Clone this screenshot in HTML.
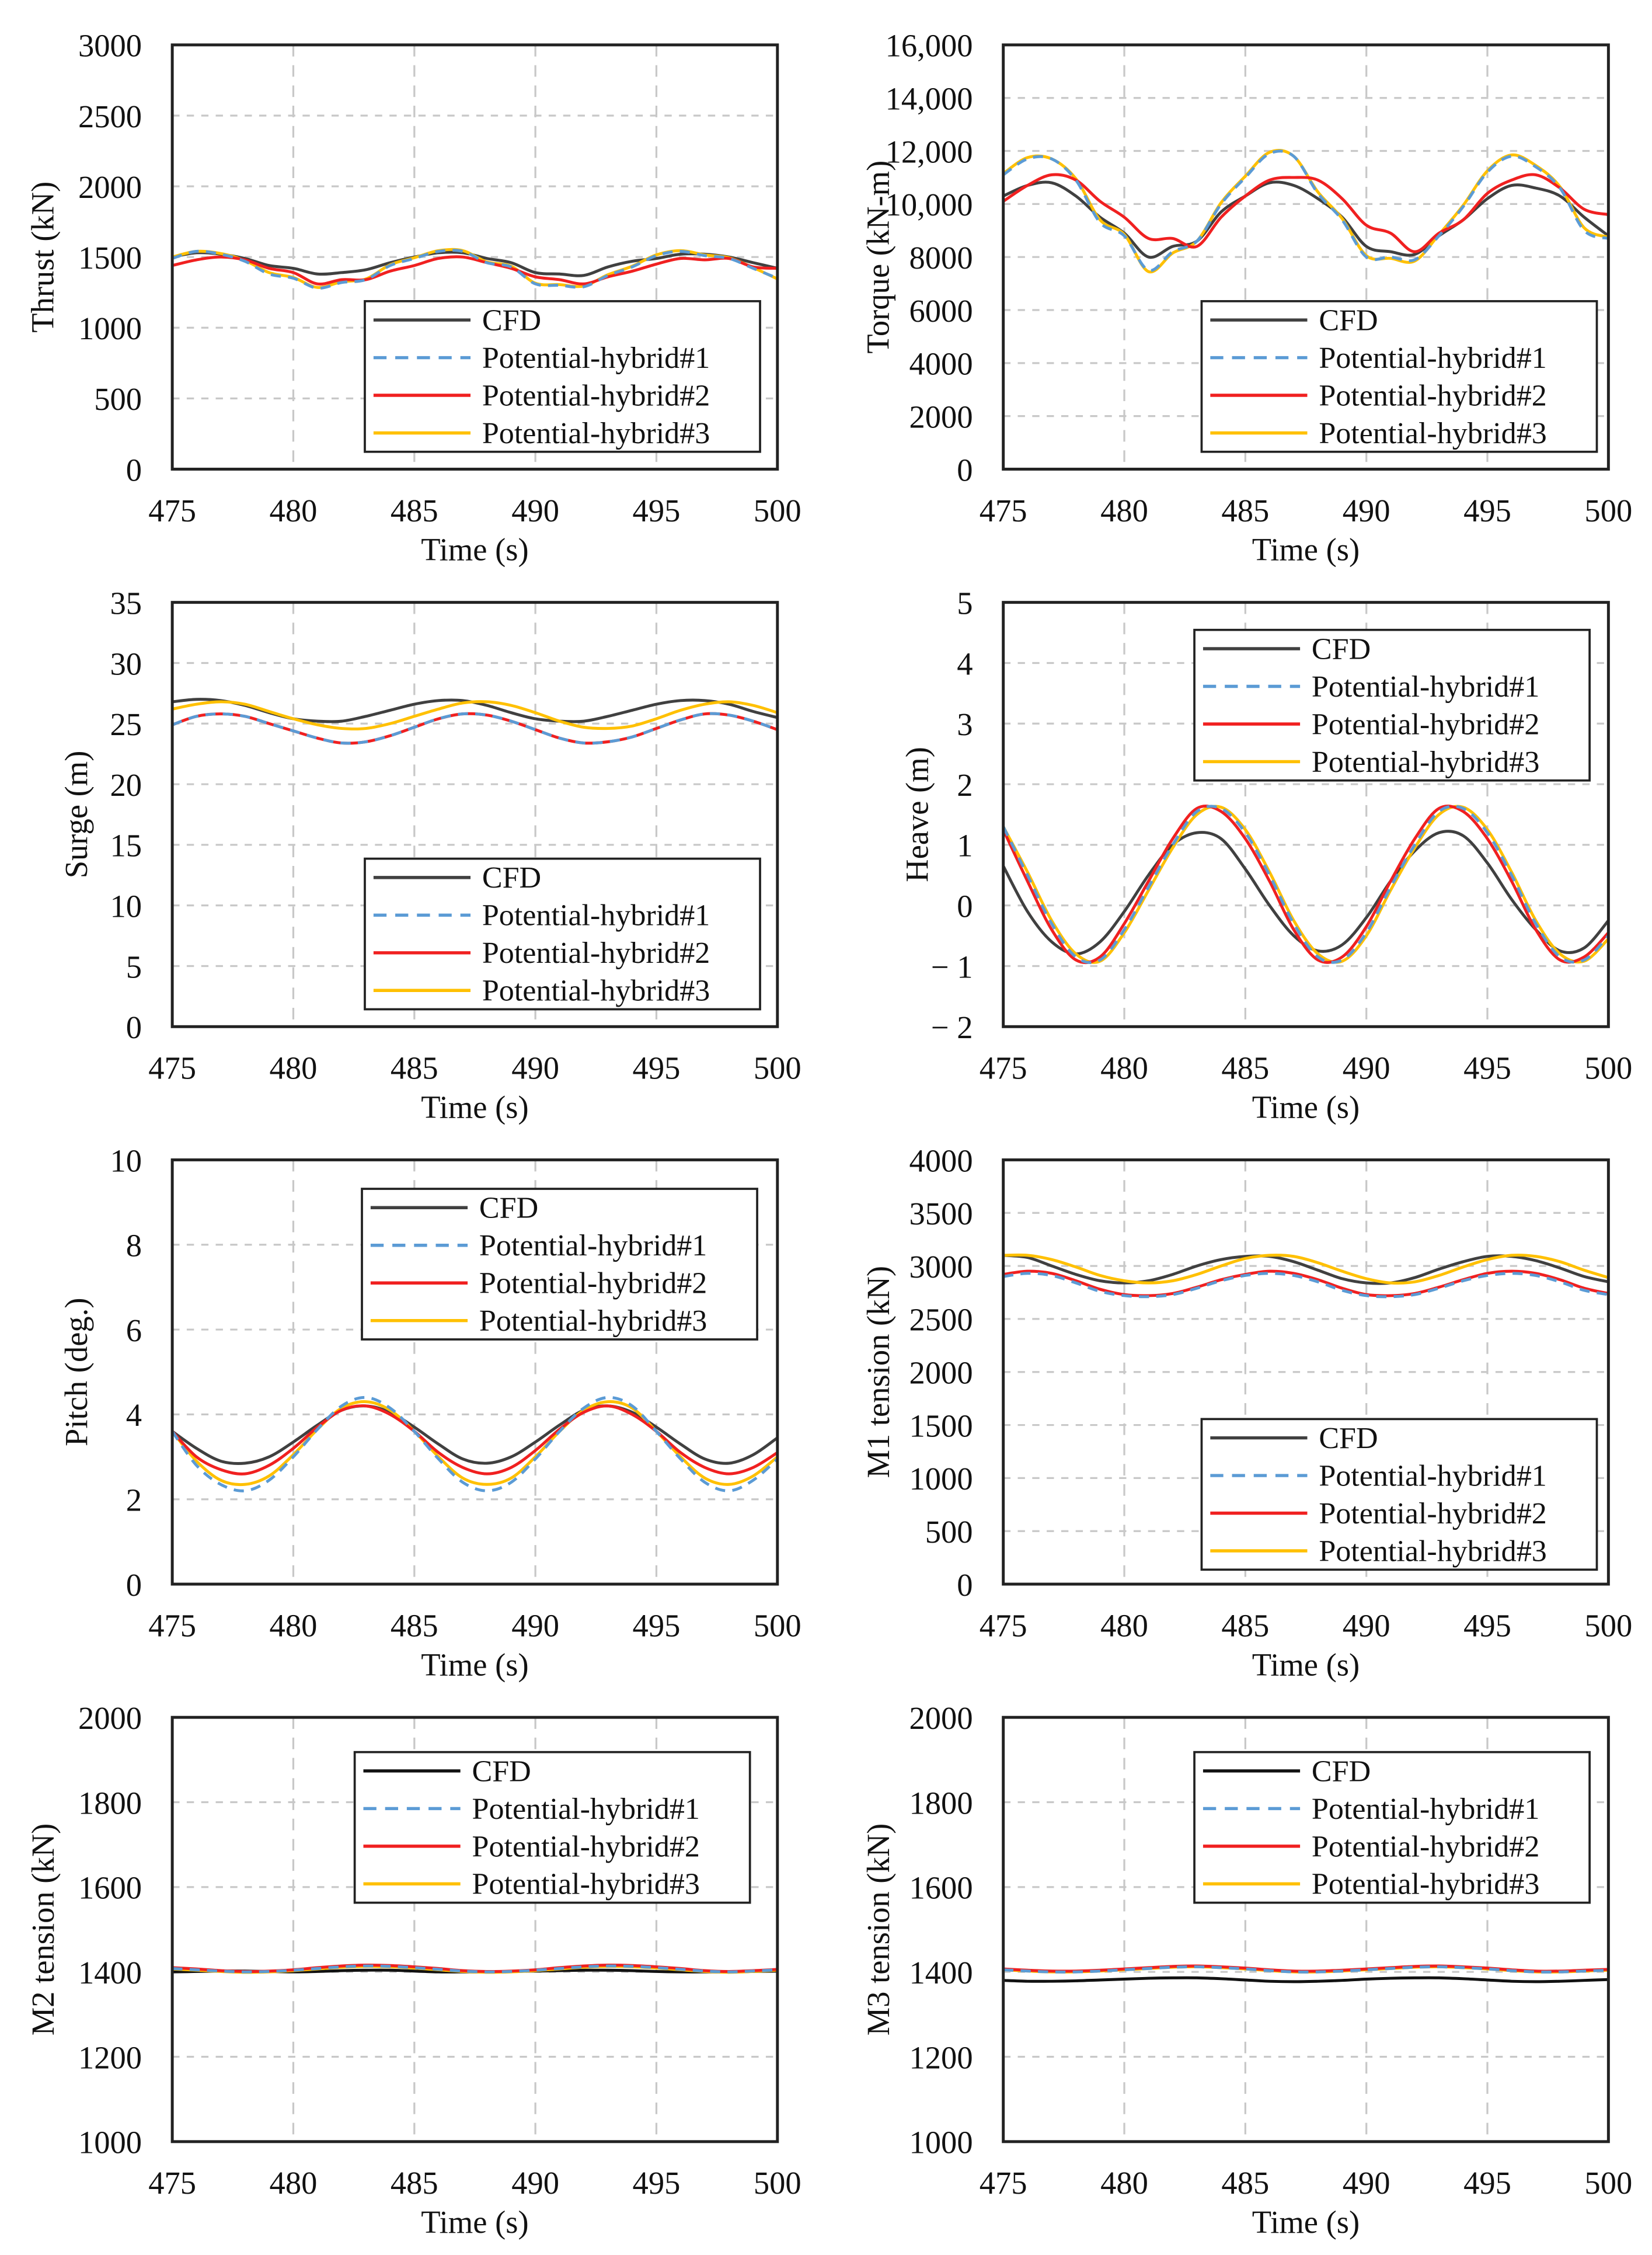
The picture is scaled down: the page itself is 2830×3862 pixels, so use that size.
<!DOCTYPE html>
<html><head><meta charset="utf-8"><style>
html,body{margin:0;padding:0;background:#fff}
svg{display:block}
text{font-family:"Liberation Serif",serif;fill:#111}
</style></head><body>
<svg id="fig" width="2830" height="3862" viewBox="0 0 1141.1 1557.3" preserveAspectRatio="none" xmlns="http://www.w3.org/2000/svg"></svg>
<script>
const times=[475,476,477,478,479,480,481,482,483,484,485,486,487,488,489,490,491,492,493,494,495,496,497,498,499,500];
const xTicks=[475,480,485,490,495,500];
const seriesNames=["CFD","Potential-hybrid#1","Potential-hybrid#2","Potential-hybrid#3"];

const thrustCFD=[1500,1530,1520,1490,1440,1420,1380,1390,1410,1460,1500,1530,1530,1490,1460,1390,1380,1370,1430,1470,1490,1520,1520,1500,1460,1420];
const thrustH1=[1490,1540,1520,1470,1380,1350,1280,1320,1340,1440,1490,1540,1540,1460,1430,1310,1300,1290,1370,1430,1510,1540,1510,1490,1420,1350];
const thrustH2=[1440,1480,1500,1480,1420,1390,1310,1340,1340,1400,1440,1490,1500,1460,1420,1360,1340,1310,1360,1400,1450,1490,1480,1490,1430,1420];
const thrustH3=[1500,1540,1525,1475,1390,1355,1285,1325,1345,1445,1495,1545,1545,1465,1435,1315,1305,1295,1375,1435,1515,1545,1515,1495,1425,1345];
const thrustTicks=["0","500","1000","1500","2000","2500","3000"];

const torqueCFD=[10300,10700,10800,10300,9500,8900,8000,8400,8600,9700,10300,10800,10700,10200,9500,8400,8200,8100,8800,9400,10200,10700,10600,10300,9500,8800];
const torqueH1=[11100,11700,11700,10900,9300,8800,7500,8200,8600,10000,11000,11900,11800,10400,9400,8000,8000,7900,8800,9900,11200,11800,11400,10600,9000,8700];
const torqueH2=[10100,10700,11100,10900,10100,9500,8700,8700,8400,9500,10300,10900,11000,10900,10200,9200,8900,8200,8900,9400,10400,10900,11100,10600,9800,9600];
const torqueH3=[11150,11750,11700,10950,9400,8850,7450,8150,8600,10050,11050,11950,11800,10450,9450,8050,7950,7850,8850,9950,11250,11850,11450,10650,9100,8750];
const torqueTicks=["0","2000","4000","6000","8000","10,000","12,000","14,000","16,000"];

const surgeCFD=[26.8,27.0,26.9,26.5,25.9,25.4,25.2,25.2,25.6,26.1,26.6,26.9,26.9,26.5,25.9,25.4,25.2,25.2,25.6,26.1,26.6,26.9,26.9,26.6,26.0,25.5];
const surgeH1=[24.9,25.6,25.8,25.6,25.0,24.4,23.8,23.4,23.5,24.0,24.7,25.4,25.8,25.7,25.2,24.5,23.8,23.4,23.5,23.9,24.6,25.3,25.8,25.7,25.2,24.5];
const surgeH2=[24.9,25.6,25.8,25.6,25.0,24.4,23.8,23.4,23.5,24.0,24.7,25.4,25.8,25.7,25.2,24.5,23.8,23.4,23.5,23.9,24.6,25.3,25.8,25.7,25.2,24.5];
const surgeH3=[26.2,26.6,26.8,26.6,26.0,25.4,24.9,24.6,24.6,25.0,25.6,26.2,26.7,26.8,26.5,25.9,25.2,24.7,24.6,24.8,25.4,26.1,26.6,26.8,26.5,25.9];
const surgeTicks=["0","5","10","15","20","25","30","35"];

const heaveCFD=[0.65,-0.1,-0.6,-0.8,-0.6,-0.1,0.5,1.0,1.2,1.1,0.6,0.0,-0.5,-0.75,-0.65,-0.2,0.4,0.9,1.2,1.15,0.7,0.1,-0.4,-0.75,-0.7,-0.25];
const heaveH1=[1.3,0.5,-0.3,-0.85,-0.9,-0.4,0.3,1.0,1.55,1.6,1.2,0.5,-0.3,-0.85,-0.9,-0.45,0.3,1.0,1.55,1.6,1.2,0.5,-0.3,-0.85,-0.9,-0.5];
const heaveH2=[1.25,0.4,-0.4,-0.9,-0.85,-0.3,0.4,1.1,1.6,1.55,1.1,0.4,-0.4,-0.9,-0.85,-0.35,0.4,1.1,1.6,1.55,1.1,0.4,-0.4,-0.9,-0.85,-0.45];
const heaveH3=[1.3,0.55,-0.25,-0.8,-0.92,-0.45,0.25,0.95,1.5,1.62,1.25,0.55,-0.25,-0.8,-0.92,-0.5,0.25,0.95,1.5,1.62,1.25,0.55,-0.25,-0.8,-0.92,-0.55];
const heaveTicks=["− 2","− 1","0","1","2","3","4","5"];

const pitchCFD=[3.6,3.2,2.9,2.85,3.0,3.35,3.75,4.1,4.2,4.05,3.7,3.3,2.95,2.85,3.0,3.35,3.75,4.1,4.2,4.05,3.7,3.3,2.95,2.85,3.05,3.45];
const pitchH1=[3.6,2.8,2.35,2.2,2.45,3.0,3.65,4.2,4.4,4.15,3.6,2.95,2.4,2.2,2.4,2.95,3.6,4.15,4.4,4.2,3.6,2.95,2.4,2.2,2.45,2.95];
const pitchH2=[3.6,3.0,2.7,2.6,2.8,3.2,3.7,4.1,4.2,4.0,3.6,3.1,2.75,2.6,2.75,3.15,3.65,4.05,4.2,4.0,3.6,3.1,2.75,2.6,2.75,3.1];
const pitchH3=[3.6,2.9,2.45,2.35,2.55,3.05,3.65,4.15,4.3,4.1,3.6,3.0,2.5,2.35,2.5,3.0,3.6,4.1,4.3,4.15,3.6,3.0,2.5,2.35,2.55,3.0];
const pitchTicks=["0","2","4","6","8","10"];

const m1CFD=[3100,3080,3000,2920,2860,2840,2860,2920,3000,3060,3090,3090,3040,2960,2880,2840,2840,2890,2970,3040,3090,3090,3050,2980,2900,2850];
const m1H1=[2900,2930,2910,2840,2760,2720,2710,2730,2790,2860,2910,2930,2910,2850,2770,2720,2710,2730,2790,2860,2910,2930,2910,2850,2770,2730];
const m1H2=[2920,2950,2930,2860,2780,2730,2720,2740,2800,2870,2920,2950,2930,2870,2790,2730,2720,2740,2800,2870,2930,2950,2930,2870,2790,2740];
const m1H3=[3100,3100,3060,2990,2910,2860,2840,2860,2920,3000,3070,3100,3090,3030,2950,2880,2840,2850,2910,2990,3060,3100,3090,3040,2960,2890];
const m1Ticks=["0","500","1000","1500","2000","2500","3000","3500","4000"];

const m2CFD=[1400,1401,1402,1402,1401,1400,1401,1403,1404,1404,1402,1400,1400,1400,1401,1402,1403,1404,1404,1403,1401,1400,1400,1400,1401,1402];
const m2H1=[1408,1405,1402,1400,1401,1404,1408,1412,1414,1413,1410,1406,1402,1400,1401,1404,1408,1412,1414,1413,1410,1406,1402,1400,1402,1405];
const m2H2=[1410,1407,1403,1401,1402,1405,1410,1414,1416,1415,1412,1408,1403,1401,1402,1405,1410,1414,1416,1415,1412,1408,1403,1401,1403,1406];
const m2H3=[1407,1404,1401,1399,1400,1403,1407,1411,1413,1412,1409,1405,1401,1399,1400,1403,1407,1411,1413,1412,1409,1405,1401,1399,1401,1404];
const m2Ticks=["1000","1200","1400","1600","1800","2000"];

const m3CFD=[1380,1378,1378,1379,1381,1383,1385,1386,1386,1384,1381,1378,1377,1378,1380,1383,1385,1386,1386,1384,1381,1378,1377,1378,1380,1382];
const m3H1=[1405,1402,1400,1400,1402,1405,1408,1411,1412,1410,1407,1403,1400,1400,1402,1405,1408,1411,1412,1410,1407,1403,1400,1400,1402,1404];
const m3H2=[1407,1404,1402,1402,1404,1407,1410,1413,1414,1412,1409,1405,1402,1402,1404,1407,1410,1413,1414,1412,1409,1405,1402,1402,1404,1406];
const m3H3=[1405,1402,1400,1400,1402,1405,1408,1411,1412,1410,1407,1403,1400,1400,1402,1405,1408,1411,1412,1410,1407,1403,1400,1400,1402,1404];
const m3Ticks=["1000","1200","1400","1600","1800","2000"];

const NS="http://www.w3.org/2000/svg";
const svg=document.getElementById('fig');
function mk(tag,attrs,parent){const e=document.createElementNS(NS,tag);for(const k in attrs)e.setAttribute(k,attrs[k]);(parent||svg).appendChild(e);return e;}

const charts=[
 {id:"thrust",col:0,row:0,title:"Thrust (kN)",tx:30,ymin:0,ymax:3000,ticks:thrustTicks,data:[thrustCFD,thrustH1,thrustH2,thrustH3],leg:[252,208],cfd:"#404040"},
 {id:"torque",col:1,row:0,title:"Torque (kN-m)",tx:607,ymin:0,ymax:16000,ticks:torqueTicks,data:[torqueCFD,torqueH1,torqueH2,torqueH3],leg:[830,208],cfd:"#404040"},
 {id:"surge",col:0,row:1,title:"Surge (m)",tx:53,ymin:0,ymax:35,ticks:surgeTicks,data:[surgeCFD,surgeH1,surgeH2,surgeH3],leg:[252,593],cfd:"#404040"},
 {id:"heave",col:1,row:1,title:"Heave (m)",tx:634,ymin:-2,ymax:5,ticks:heaveTicks,data:[heaveCFD,heaveH1,heaveH2,heaveH3],leg:[825,435],cfd:"#404040"},
 {id:"pitch",col:0,row:2,title:"Pitch (deg.)",tx:53,ymin:0,ymax:10,ticks:pitchTicks,data:[pitchCFD,pitchH1,pitchH2,pitchH3],leg:[250,821],cfd:"#404040"},
 {id:"m1-tension",col:1,row:2,title:"M1 tension (kN)",tx:607,ymin:0,ymax:4000,ticks:m1Ticks,data:[m1CFD,m1H1,m1H2,m1H3],leg:[830,980],cfd:"#404040"},
 {id:"m2-tension",col:0,row:3,title:"M2 tension (kN)",tx:30,ymin:1000,ymax:2000,ticks:m2Ticks,data:[m2CFD,m2H1,m2H2,m2H3],leg:[245,1210],cfd:"#111"},
 {id:"m3-tension",col:1,row:3,title:"M3 tension (kN)",tx:607,ymin:1000,ymax:2000,ticks:m3Ticks,data:[m3CFD,m3H1,m3H2,m3H3],leg:[825,1210],cfd:"#111"}
];
const colX=[[119,537],[693,1111]];
const rowY=[31,416,801,1186];
const PH=293;

function smoothPath(pts){
 let d="M"+pts[0][0]+","+pts[0][1];
 for(let i=0;i<pts.length-1;i++){
  const p0=pts[i-1]||pts[i],p1=pts[i],p2=pts[i+1],p3=pts[i+2]||p2;
  const c1x=p1[0]+(p2[0]-p0[0])/6,c1y=p1[1]+(p2[1]-p0[1])/6;
  const c2x=p2[0]-(p3[0]-p1[0])/6,c2y=p2[1]-(p3[1]-p1[1])/6;
  d+=" C"+c1x.toFixed(2)+","+c1y.toFixed(2)+" "+c2x.toFixed(2)+","+c2y.toFixed(2)+" "+p2[0].toFixed(2)+","+p2[1].toFixed(2);
 }
 return d;
}

charts.forEach(c=>{
 const L=colX[c.col][0],R=colX[c.col][1],T=rowY[c.row],B=T+PH;
 const sx=v=>L+(v-475)/(500-475)*(R-L);
 const sy=v=>B-(v-c.ymin)/(c.ymax-c.ymin)*(B-T);
 const g=mk('g',{});
 
 
 // gridlines
 const n=c.ticks.length;
 for(let i=1;i<n-1;i++){
  const y=T+(B-T)*(1-i/(n-1));
  const gl=mk('line',{x1:L,x2:R,y1:y,y2:y,stroke:"#c8c8c8","stroke-width":1.3,"stroke-dasharray":"5,5"},g);
  
  
 }
 xTicks.slice(1,-1).forEach(t=>{
  const x=sx(t);
  const gl=mk('line',{x1:x,x2:x,y1:T,y2:B,stroke:"#c8c8c8","stroke-width":1.3,"stroke-dasharray":"8,6"},g);
  
  
 });
 // tick labels
 c.ticks.forEach((lab,i)=>{
  const y=T+(B-T)*(1-i/(n-1));
  const t=mk('text',{x:L-21,y:y+8,"text-anchor":"end","font-size":22},g);
  t.textContent=lab;
  
  
 });
 xTicks.forEach(v=>{
  const t=mk('text',{x:sx(v),y:B+36,"text-anchor":"middle","font-size":22},g);
  t.textContent=String(v);
  
  
 });
 const xt=mk('text',{x:(L+R)/2,y:B+63,"text-anchor":"middle","font-size":22},g);
 xt.textContent="Time (s)";
 
 
 const yt=mk('text',{x:c.tx,y:(T+B)/2,"text-anchor":"middle","font-size":22,transform:"rotate(-90 "+c.tx+" "+((T+B)/2)+")"},g);
 yt.setAttribute('dy','7');
 yt.textContent=c.title;
 
 
 // series
 const styles=[{s:c.cfd,w:2,d:null},{s:"#5b9bd5",w:2,d:"7,5"},{s:"#f02020",w:2,d:null},{s:"#ffc000",w:2,d:null}];
 const order=[0,3,2,1];
 const clip=mk('clipPath',{id:"clip-"+c.id},g);
 mk('rect',{x:L,y:T,width:R-L,height:B-T},clip);
 order.forEach(k=>{
  const pts=times.map((t,i)=>[sx(t),sy(c.data[k][i])]);
  const p=mk('path',{d:smoothPath(pts),fill:"none",stroke:styles[k].s,"stroke-width":styles[k].w,"clip-path":"url(#clip-"+c.id+")"},g);
  if(styles[k].d)p.setAttribute('stroke-dasharray',styles[k].d);
  
  
 });
 // frame
 const fr=mk('rect',{x:L,y:T,width:R-L,height:B-T,fill:"none",stroke:"#222","stroke-width":2},g);
 
 
 // legend
 const bx=c.leg[0],by=c.leg[1];
 const lg=mk('g',{},g);
 
 
 mk('rect',{x:bx,y:by,width:273,height:104,fill:"#fff",stroke:"#222","stroke-width":1.5},lg);
 seriesNames.forEach((nm,k)=>{
  const y=by+13+k*26;
  const ln=mk('line',{x1:bx+6,x2:bx+73,y1:y,y2:y,stroke:styles[k].s,"stroke-width":2.2},lg);
  if(styles[k].d)ln.setAttribute('stroke-dasharray',"9,6");
  
  
  const t=mk('text',{x:bx+81,y:y+7,"font-size":21},lg);
  t.textContent=nm;
  
  
 });
});
</script>
</body></html>
